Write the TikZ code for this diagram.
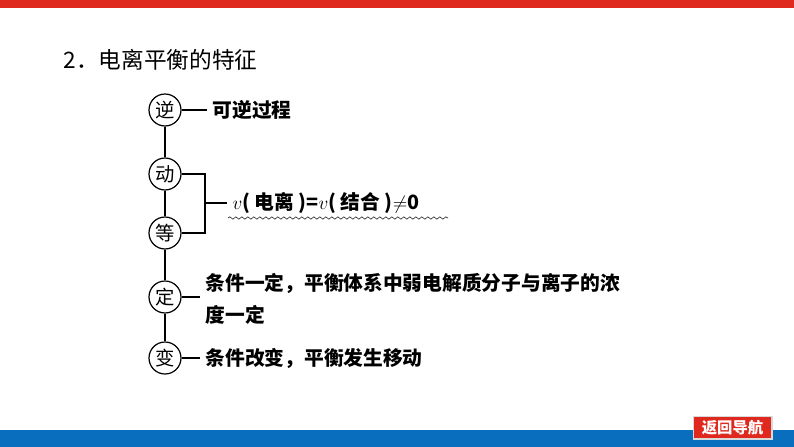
\documentclass[tikz,border=0pt]{standalone}
\usepackage{fontspec}
\newfontfamily\cjk{Noto Sans CJK SC}
\usetikzlibrary{decorations.pathmorphing}
\definecolor{barred}{RGB}{224,41,30}
\definecolor{barblue}{RGB}{10,110,190}
\begin{document}
\begin{tikzpicture}[x=0.75pt,y=-0.75pt,line width=0.9pt,
        k/.style ={draw, circle, minimum size=24pt, inner sep=0pt, font=\cjk\fontsize{14.5}{14.5}\selectfont},
        t/.style ={anchor=west, inner xsep=3.75pt, inner ysep=0pt, align=left, font=\cjk\bfseries\fontsize{14.8}{24}\selectfont}]
        \useasboundingbox (0,0) rectangle (794,447);
        \fill[barred]  (0,0)   rectangle (794,8);
        \fill[barblue] (0,430) rectangle (794,447);
        \node[anchor=west, inner sep=0pt, font=\cjk\fontsize{17}{17}\selectfont] (ttl) at (63,60) {2．电离平衡的特征};
        \foreach \l/\y [count=\i] in {逆/110,动/174,等/233,定/297,变/358} {\node[k] (c\i) at (165,\y){\l};}
        \foreach \i [count=\j from 2] in {1,...,4} {\draw (c\i) -- (c\j);}
        \node[t] (d1) at (207,110) {可逆过程};
        \coordinate (br) at (205,203);
        \node[t] (d2) at (227,203) {$v$( 电离 )=$v$( 结合 )$\neq$0};
        \node[t] (d3) at (200,299) {条件一定，平衡体系中弱电解质分子与离子的浓\\度一定};
        \node[t] (d4) at (200,358) {条件改变，平衡发生移动};
        \coordinate (w1) at (228,218);
        \coordinate (w2) at (448,218);
% Verbindungen
        \draw (c1) -- (d1);
        \draw (c2.east) -| (br) |- (c3.east);
        \draw (br) -- (d2);
        \draw (c4.east) -- (c4.east -| d3.west);
        \draw (c5) -- (d4);
        \draw[thin, decorate, decoration={snake, amplitude=0.9pt, segment length=4.5pt}] (w1) -- (w2);
        \node[fill=barred, draw=gray!30, line width=1pt, text=white, minimum width=59pt, minimum height=17pt, inner sep=0pt,
              font=\cjk\bfseries\fontsize{11.5}{11.5}\selectfont] (nav) at (732.5,427.5) {返回导航};
    \end{tikzpicture}
\end{document}
